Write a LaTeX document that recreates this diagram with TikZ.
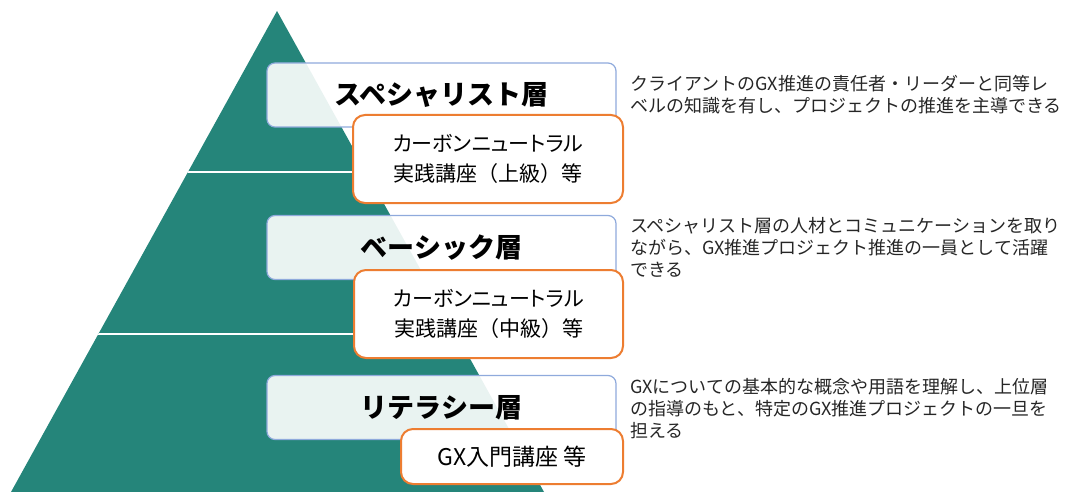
\documentclass[tikz,border=0pt]{standalone}
\usepackage{fontspec}
\setmainfont{Noto Sans CJK JP}
\newfontfamily\kanafont{Noto Sans CJK JP}[RawFeature=+palt]
\usetikzlibrary{positioning}
\definecolor{pyrteal}{HTML}{25857A}
\definecolor{tierline}{HTML}{8FAADC}
\definecolor{courseorange}{HTML}{ED7D31}
\definecolor{desctext}{HTML}{262626}

\begin{document}
\begin{tikzpicture}[x=1pt,y=-1pt,
                tier/.style={
                  draw=tierline, line width=1.2pt, fill=white, fill opacity=0.9, text opacity=1,
                  rounded corners=8pt, minimum width=349pt, minimum height=64pt,
                  font=\fontsize{27}{30}\selectfont\bfseries
                },
                course/.style={
                  draw=courseorange, line width=2pt, fill=white, rounded corners=12pt,
                  align=center, font=\fontsize{21}{30}\selectfont
                },
                desc/.style={anchor=north west, inner sep=0pt, align=left, text=desctext,
                  font=\fontsize{18}{22}\selectfont}
                ]
                \useasboundingbox (0,0) rectangle (1071,492);
                % pyramid
                \coordinate (apex) at (277,11);
                \coordinate (baseL) at (11,492);
                \coordinate (baseR) at (544,492);
                \fill[pyrteal] (apex) -- (baseR) -- (baseL) -- cycle;
                \begin{scope}
                  \clip (apex) -- (baseR) -- (baseL) -- cycle;
                  \draw[white, line width=2pt] (0,172) -- (600,172);
                  \draw[white, line width=2pt] (0,334) -- (600,334);
                \end{scope}
                % tiers
                \node [tier] (spec) at (441.5,95) {スペシャリスト層};
                \node [tier] (basic) at (441.5,247.5) {ベーシック層};
                \node [tier] (lit) at (441.5,407.5) {リテラシー層};
                % courses
                \node [course, minimum width=270pt, minimum height=88pt] (specC) at (488,159)
                  {{\kanafont カーボンニュートラル}\\実践講座（上級）等};
                \node [course, minimum width=269pt, minimum height=88pt] (basicC) at (488.5,314)
                  {{\kanafont カーボンニュートラル}\\実践講座（中級）等};
                \node [course, minimum width=222pt, minimum height=55pt,
                  font=\fontsize{23}{30}\selectfont] (litC) at (512,456.5)
                  {GX入門講座 等};
                % descriptions
                \node [desc] (specD) at (630,75)
                  {クライアントのGX推進の責任者・リーダーと同等レ\\ベルの知識を有し、プロジェクトの推進を主導できる};
                \node [desc] (basicD) at (630,217)
                  {スペシャリスト層の人材とコミュニケーションを取り\\ながら、GX推進プロジェクト推進の一員として活躍\\できる};
                \node [desc] (litD) at (630,378)
                  {GXについての基本的な概念や用語を理解し、上位層\\の指導のもと、特定のGX推進プロジェクトの一旦を\\担える};
            \end{tikzpicture}
\end{document}
